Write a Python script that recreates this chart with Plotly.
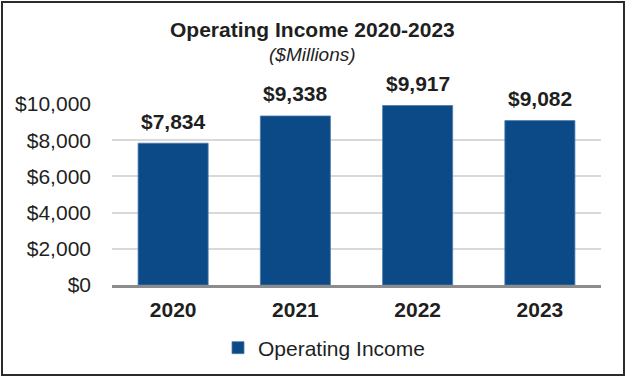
import plotly.graph_objects as go

years = ["2020", "2021", "2022", "2023"]
values = [7834, 9338, 9917, 9082]
value_labels = ["$7,834", "$9,338", "$9,917", "$9,082"]
tick_vals = [0, 2000, 4000, 6000, 8000, 10000]
tick_text = ["$0", "$2,000", "$4,000", "$6,000", "$8,000", "$10,000"]
series_name = "Operating Income"

FONT = "Liberation Sans, Arial, sans-serif"
TXT = "#1f1f1f"
BAR = "#0B4A86"

W, H = 632, 378
L, R, T, B = 112, 31, 104, 93
pw, ph = W - L - R, H - T - B

fig = go.Figure()
fig.add_trace(go.Bar(
    x=years, y=values, name=series_name,
    marker=dict(color=BAR, line=dict(color="#4A7BB0", width=0.8)),
    showlegend=True,
))

for i, (y, t) in enumerate(zip(values, value_labels)):
    fig.add_annotation(x=i, y=y, text=f"<b>{t}</b>", showarrow=False,
                       yanchor="middle", yshift=22,
                       font=dict(family=FONT, size=21, color=TXT))

# title and subtitle
fig.add_annotation(xref="paper", yref="paper", x=(312 - L) / pw, y=(H - B - 30) / ph,
                   text="<b>Operating Income 2020-2023</b>", showarrow=False,
                   xanchor="center", yanchor="middle",
                   font=dict(family=FONT, size=21, color=TXT))
fig.add_annotation(xref="paper", yref="paper", x=(312 - L) / pw, y=(H - B - 55) / ph,
                   text="<i>($Millions)</i>", showarrow=False,
                   xanchor="center", yanchor="middle",
                   font=dict(family=FONT, size=19, color=TXT))

# outer border
fig.add_shape(type="rect", xref="paper", yref="paper",
              x0=(2 - L) / pw, x1=(624 - L) / pw,
              y0=(H - B - 375) / ph, y1=(H - B - 2) / ph,
              line=dict(color="#2b2b2b", width=2), layer="above")

fig.update_layout(
    width=W, height=H,
    margin=dict(l=L, r=R, t=T, b=B, pad=0, autoexpand=False),
    paper_bgcolor="white", plot_bgcolor="white",
    bargap=0.427,
    font=dict(family=FONT, size=21, color=TXT),
    xaxis=dict(
        type="category", range=[-0.5, 3.5],
        showgrid=False, showline=True, linecolor="#8c8c8c", linewidth=2.5,
        ticks="", tickfont=dict(family=FONT, size=21, color=TXT, weight="bold"),
        ticklabelstandoff=4,
    ),
    yaxis=dict(
        range=[0, 10000], tickvals=tick_vals, ticktext=tick_text,
        showgrid=True, gridcolor="#d9d9d9", gridwidth=1.5,
        zeroline=False, showline=False, ticks="",
        tickfont=dict(family=FONT, size=21, color=TXT),
        ticklabelstandoff=20,
    ),
    legend=dict(orientation="h", xref="container", yref="container",
                x=218 / W, xanchor="left", y=1 - 348 / H, yanchor="middle",
                font=dict(family=FONT, size=21, color=TXT),
                bgcolor="rgba(0,0,0,0)"),
)

fig.write_html("out.html", config={"displayModeBar": False},
               post_script="document.body.style.margin='0';document.body.style.overflow='hidden';")
